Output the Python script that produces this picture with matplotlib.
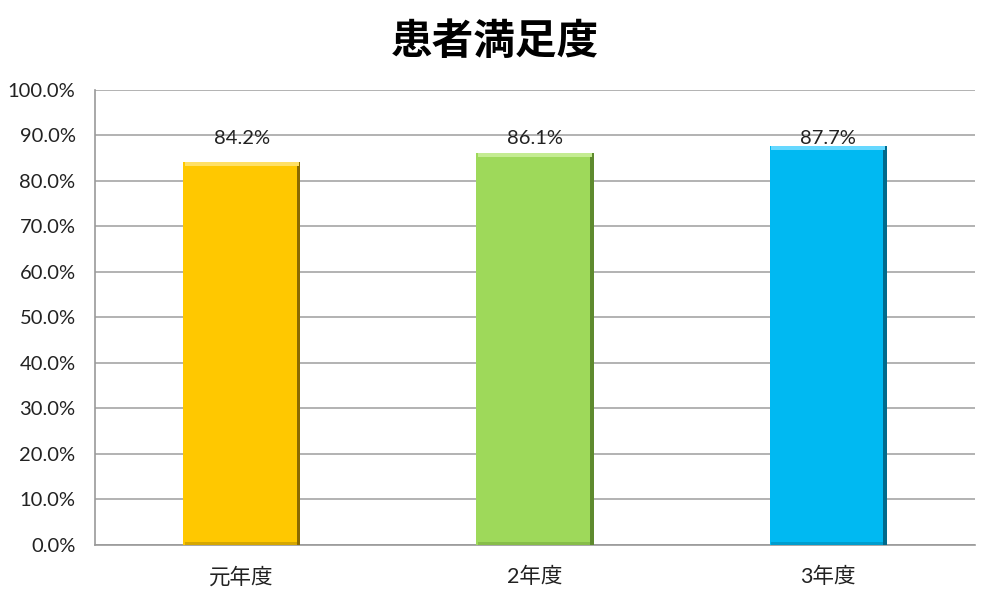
import matplotlib
matplotlib.use('Agg')
import matplotlib.pyplot as plt
from matplotlib.ticker import FuncFormatter

plt.rcParams['font.family'] = ['Lato', 'Noto Sans CJK JP', 'DejaVu Sans']

# data
years = ['元年度', '2年度', '3年度']
satisfaction = [84.2, 86.1, 87.7]
face_colors = ['#FFC800', '#9ED95A', '#00B9F2']
dark_colors = ['#8A6A00', '#5E8A2E', '#006A8C']
light_colors = ['#FFE066', '#C4EC92', '#66D8FF']

fig = plt.figure(figsize=(10, 6), dpi=100)
ax = fig.add_axes([0.095, 0.0917, 0.88, 0.7583])

x = list(range(len(years)))
w = 0.4
edge = 0.012  # bevel strip width in data units
top_h = 0.9   # bevel strip height in % units

ax.bar(x, satisfaction, width=w, color=face_colors, zorder=3)
# right shaded bevel
ax.bar([i + w / 2 - edge for i in x], satisfaction, width=edge, align='edge',
       color=dark_colors, zorder=4)
# top highlight bevel
ax.bar(x, [top_h] * 3, width=w - edge, bottom=[v - top_h for v in satisfaction],
       color=light_colors, zorder=4, align='center')
# bottom shade
ax.bar(x, [top_h * 0.8] * 3, width=w - edge, color=dark_colors, alpha=0.35, zorder=4)

for i, v in zip(x, satisfaction):
    ax.text(i, 89.4, f'{v:.1f}%', ha='center', va='center', fontsize=14.5,
            color='#222222', zorder=5)

ax.set_xlim(-0.5, 2.5)
ax.set_ylim(0, 100)
ax.set_yticks(range(0, 101, 10))
ax.yaxis.set_major_formatter(FuncFormatter(lambda v, p: f'{v:.1f}%'))
ax.set_xticks(x)
ax.set_xticklabels(years)
ax.tick_params(axis='both', length=0, labelsize=14.5, colors='#222222')
ax.tick_params(axis='x', pad=16, labelsize=15.5)
ax.tick_params(axis='y', pad=14)

ax.grid(axis='y', color='#A6A6A6', linewidth=1.2, zorder=0)
ax.set_axisbelow(True)
for s in ['top', 'right']:
    ax.spines[s].set_visible(False)
for s in ['left', 'bottom']:
    ax.spines[s].set_color('#999999')
    ax.spines[s].set_linewidth(1.2)

fig.suptitle('患者満足度', x=0.495, y=0.965, fontsize=30, fontweight='bold',
             family=['Noto Sans CJK JP'])

fig.savefig('out.png', dpi=100)
